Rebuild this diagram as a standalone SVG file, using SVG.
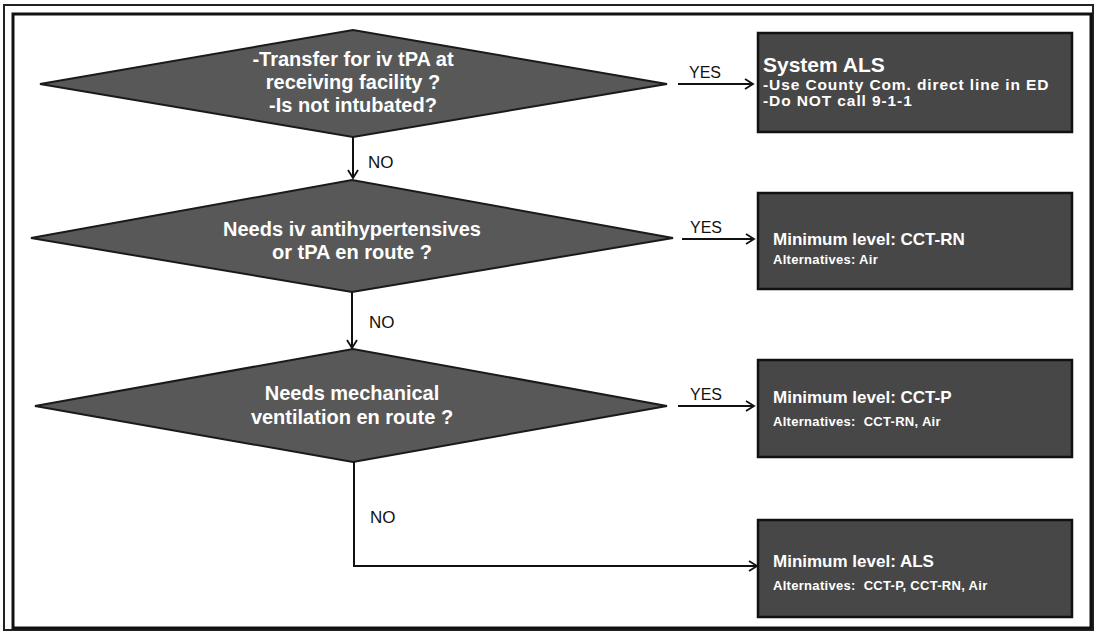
<svg xmlns="http://www.w3.org/2000/svg" width="1097" height="634" viewBox="0 0 1097 634">
<defs>
<marker id="arr" markerWidth="12" markerHeight="12" refX="10" refY="6" orient="auto" markerUnits="userSpaceOnUse">
<path d="M2,1 L10,6 L2,11" fill="none" stroke="#111" stroke-width="1.8"/>
</marker>
<style>
.dia{fill:#585858;stroke:#1a1a1a;stroke-width:2}
.box{fill:#474747;stroke:#111;stroke-width:2.5}
.dt{font-family:"Liberation Sans",Arial,sans-serif;font-weight:bold;font-size:20px;fill:#fff;text-anchor:middle}
.bt{font-family:"Liberation Sans",Arial,sans-serif;font-weight:bold;font-size:17px;fill:#fff}
.bs{font-family:"Liberation Sans",Arial,sans-serif;font-weight:bold;font-size:13px;fill:#fff;letter-spacing:0.3px}
.b1{font-family:"Liberation Sans",Arial,sans-serif;font-weight:bold;font-size:15.5px;fill:#fff;letter-spacing:0.9px}
.lbl{font-family:"Liberation Sans",Arial,sans-serif;font-size:16px;fill:#111}
.con{fill:none;stroke:#111;stroke-width:2;marker-end:url(#arr)}
</style>
</defs>
<rect x="0" y="0" width="1097" height="634" fill="#fff"/>
<rect x="4" y="5" width="1089" height="625" fill="none" stroke="#222" stroke-width="2"/>
<rect x="13" y="14" width="1078" height="614" fill="none" stroke="#111" stroke-width="3"/>

<g id="d1">
<polygon class="dia" points="40,84 353,30 667,84 353,137"/>
<text class="dt" x="353" y="66">-Transfer for iv tPA at</text>
<text class="dt" x="353" y="89">receiving facility ?</text>
<text class="dt" x="353" y="112">-Is not intubated?</text>
</g>
<g id="d2">
<polygon class="dia" points="31,238 352,180 673,238 352,292"/>
<text class="dt" x="352" y="236">Needs iv antihypertensives</text>
<text class="dt" x="352" y="259">or tPA en route ?</text>
</g>
<g id="d3">
<polygon class="dia" points="35,406 353,349 667,406 353,462"/>
<text class="dt" x="352" y="400">Needs mechanical</text>
<text class="dt" x="352" y="424">ventilation en route ?</text>
</g>

<g id="b1">
<rect class="box" x="758" y="33" width="314" height="99"/>
<text class="bt" x="763" y="72" style="font-size:21px">System ALS</text>
<text class="b1" x="763" y="90">-Use County Com. direct line in ED</text>
<text class="b1" x="763" y="106">-Do NOT call 9-1-1</text>
</g>
<g id="b2">
<rect class="box" x="758" y="193" width="314" height="96"/>
<text class="bt" x="773" y="245">Minimum level: CCT-RN</text>
<text class="bs" x="773" y="264">Alternatives: Air</text>
</g>
<g id="b3">
<rect class="box" x="758" y="360" width="314" height="97"/>
<text class="bt" x="773" y="403">Minimum level: CCT-P</text>
<text class="bs" x="773" y="426">Alternatives:<tspan dx="8">CCT-RN, Air</tspan></text>
</g>
<g id="b4">
<rect class="box" x="758" y="520" width="314" height="97"/>
<text class="bt" x="773" y="567">Minimum level: ALS</text>
<text class="bs" x="773" y="590">Alternatives:<tspan dx="8">CCT-P, CCT-RN, Air</tspan></text>
</g>

<g id="connectors">
<path class="con" d="M678,84 H753"/>
<path class="con" d="M682,239 H754"/>
<path class="con" d="M678,406 H754"/>
<path class="con" d="M353,137 V178"/>
<path class="con" d="M352,292 V348"/>
<path class="con" d="M354,462 V566 H757"/>
<text class="lbl" x="705" y="78" text-anchor="middle">YES</text>
<text class="lbl" x="706" y="233" text-anchor="middle">YES</text>
<text class="lbl" x="706" y="400" text-anchor="middle">YES</text>
<text class="lbl" x="368" y="168" style="font-size:17px">NO</text>
<text class="lbl" x="369" y="328" style="font-size:17px">NO</text>
<text class="lbl" x="370" y="523" style="font-size:17px">NO</text>
</g>
</svg>
